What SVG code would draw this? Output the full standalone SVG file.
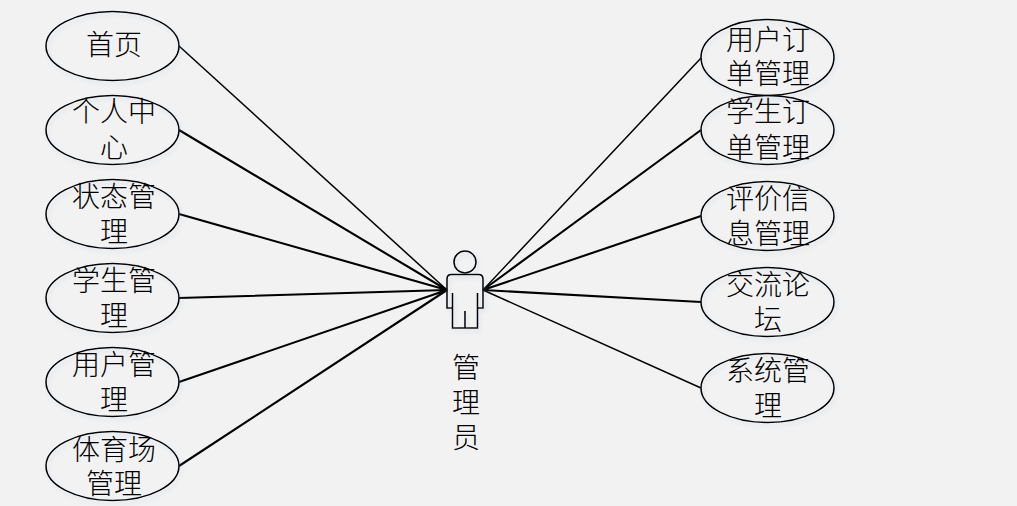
<svg xmlns="http://www.w3.org/2000/svg" width="1017" height="506" viewBox="0 0 1017 506">
<style>
.n{fill:none;stroke:#000;stroke-width:1.6}
.c{stroke:#000;stroke-width:1.5;fill:none}
.t{stroke:#000;stroke-width:2.100;fill:none}
text{font-family:"Noto Sans CJK SC","Liberation Serif",serif;font-size:28px;font-weight:300;text-anchor:middle;fill:#000;dominant-baseline:central}
</style>
<defs><filter id="s" x="-20%" y="-20%" width="140%" height="140%"><feDropShadow dx="2" dy="3" stdDeviation="2" flood-color="#a9bdd6" flood-opacity="0.35"/></filter></defs>
<rect width="1017" height="506" fill="#f2f2f2"/>
<g id="connectors">
<path class="c" d="M179 46L447 290"/>
<path class="t" d="M179 130L447 290M179 214L447 290M179 298L447 290M179 382L447 290M179 466L447 290"/>
<path class="c" d="M701 58L483 290M701 388L483 290"/>
<path class="t" d="M701 130L483 290M701 216L483 290M701 302L483 290"/>
</g>
<g id="n-shouye"><ellipse class="n" filter="url(#s)" cx="112.500" cy="46" rx="66.500" ry="34.500"/><text x="114" y="43">首页</text></g>
<g id="n-geren"><ellipse class="n" filter="url(#s)" cx="112.500" cy="130" rx="66.500" ry="34.500"/><text y="110"><tspan x="114">个人中</tspan><tspan x="114" dy="36">心</tspan></text></g>
<g id="n-zhuangtai"><ellipse class="n" filter="url(#s)" cx="112.500" cy="214" rx="66.500" ry="34.500"/><text y="195"><tspan x="114">状态管</tspan><tspan x="114" dy="35">理</tspan></text></g>
<g id="n-xuesheng"><ellipse class="n" filter="url(#s)" cx="112.500" cy="298" rx="66.500" ry="34.500"/><text y="279"><tspan x="114">学生管</tspan><tspan x="114" dy="35">理</tspan></text></g>
<g id="n-yonghu"><ellipse class="n" filter="url(#s)" cx="112.500" cy="382" rx="66.500" ry="34.500"/><text y="363"><tspan x="114">用户管</tspan><tspan x="114" dy="35">理</tspan></text></g>
<g id="n-tiyu"><ellipse class="n" filter="url(#s)" cx="112.500" cy="466" rx="66.500" ry="34.500"/><text y="448"><tspan x="114">体育场</tspan><tspan x="114" dy="34">管理</tspan></text></g>
<g id="n-yonghudingdan"><ellipse class="n" filter="url(#s)" cx="767.500" cy="57.500" rx="66.500" ry="38"/><text y="38"><tspan x="768">用户订</tspan><tspan x="768" dy="34">单管理</tspan></text></g>
<g id="n-xueshengdingdan"><ellipse class="n" filter="url(#s)" cx="767.500" cy="130" rx="66.500" ry="34.500"/><text y="110"><tspan x="768">学生订</tspan><tspan x="768" dy="36">单管理</tspan></text></g>
<g id="n-pingjia"><ellipse class="n" filter="url(#s)" cx="767.500" cy="216" rx="66.500" ry="34.500"/><text y="197"><tspan x="768">评价信</tspan><tspan x="768" dy="35">息管理</tspan></text></g>
<g id="n-jiaoliu"><ellipse class="n" filter="url(#s)" cx="767.500" cy="302" rx="66.500" ry="34.500"/><text y="283"><tspan x="768">交流论</tspan><tspan x="768" dy="35">坛</tspan></text></g>
<g id="n-xitong"><ellipse class="n" filter="url(#s)" cx="767.500" cy="388" rx="66.500" ry="34.500"/><text y="369"><tspan x="768">系统管</tspan><tspan x="768" dy="35">理</tspan></text></g>
<g id="n-actor">
<g filter="url(#s)"><circle class="n" cx="465" cy="262" r="11"/>
<path class="n" d="M452.500 293V308H447V279Q447 274.500 451.500 274.500H478.500Q483 274.500 483 279V308H477.500V293M452.500 308V328H477.500V308M465 311V328"/></g>
<text y="366"><tspan x="466">管</tspan><tspan x="466" dy="35">理</tspan><tspan x="466" dy="35">员</tspan></text>
</g>
</svg>
